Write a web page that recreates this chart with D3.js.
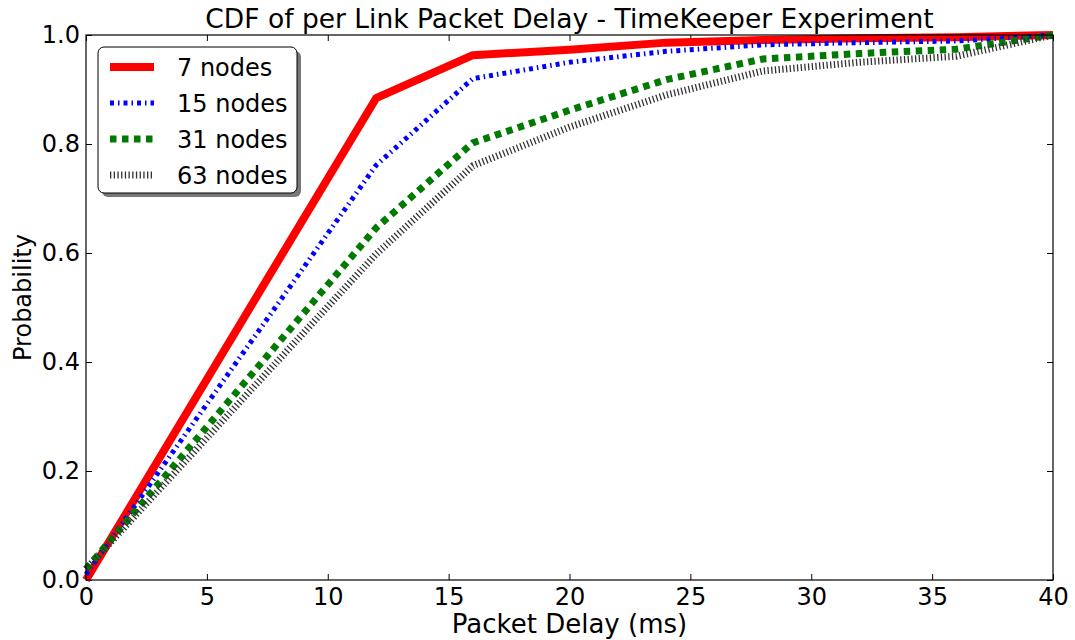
<!DOCTYPE html>
<html>
<head>
<meta charset="utf-8">
<script src="https://cdn.jsdelivr.net/npm/d3@7"></script>
<style>
  body { margin: 0; background: #fff; }
  text { font-family: "DejaVu Sans", sans-serif; fill: #000; }
</style>
</head>
<body>
<div class="chart"></div>
<script>
// data
var delays  = [0, 12, 16, 20, 24, 28, 32, 36, 40];
var nodes7  = [0, 0.884, 0.963, 0.973, 0.986, 0.991, 0.994, 0.996, 1.0];
var nodes15 = [0.01, 0.761, 0.920, 0.950, 0.970, 0.982, 0.986, 0.989, 1.0];
var nodes31 = [0.02, 0.646, 0.802, 0.862, 0.918, 0.956, 0.966, 0.974, 1.0];
var nodes63 = [0.02, 0.598, 0.760, 0.831, 0.890, 0.934, 0.950, 0.961, 1.0];
var seriesNames = ["7 nodes", "15 nodes", "31 nodes", "63 nodes"];
var xTicks = [0, 5, 10, 15, 20, 25, 30, 35, 40];
var yTicks = [0, 0.2, 0.4, 0.6, 0.8, 1.0];

var svgWidth = 1075;
var svgHeight = 640;

var margin = { top: 35, right: 22, bottom: 60, left: 86 };

var width = svgWidth - margin.left - margin.right;
var height = svgHeight - margin.top - margin.bottom;

var svg = d3.select(".chart")
  .append("svg")
  .attr("width", svgWidth)
  .attr("height", svgHeight);

var chartGroup = svg.append("g")
  .attr("transform", `translate(${margin.left}, ${margin.top})`);

var xLinearScale = d3.scaleLinear().domain([0, 40]).range([0, width]);
var yLinearScale = d3.scaleLinear().domain([0, 1]).range([height, 0]);

// line styles (matplotlib-like)
var styles = [
  { color: "#ff0000", width: 8, dash: null },
  { color: "#0000ff", width: 5, dash: "4,4,1.5,4" },
  { color: "#007a00", width: 7, dash: "6.5,5.5" },
  { color: "#333333", width: 7, dash: "1.3,2.4" }
];
var allSeries = [nodes7, nodes15, nodes31, nodes63];

// axes: inward ticks on all four sides
var tickFmt = d3.format(".1f");
var bottomAxis = d3.axisBottom(xLinearScale).tickValues(xTicks).tickSizeInner(-6).tickSizeOuter(0).tickPadding(8);
var leftAxis = d3.axisLeft(yLinearScale).tickValues(yTicks).tickFormat(tickFmt).tickSizeInner(-6).tickSizeOuter(0).tickPadding(6);
var topAxis = d3.axisTop(xLinearScale).tickValues(xTicks).tickSizeInner(-6).tickSizeOuter(0).tickFormat("");
var rightAxis = d3.axisRight(yLinearScale).tickValues(yTicks).tickSizeInner(-6).tickSizeOuter(0).tickFormat("");

var gx = chartGroup.append("g").attr("transform", `translate(0, ${height})`).call(bottomAxis);
var gy = chartGroup.append("g").call(leftAxis);
chartGroup.append("g").call(topAxis);
chartGroup.append("g").attr("transform", `translate(${width}, 0)`).call(rightAxis);

chartGroup.selectAll(".domain").remove();
chartGroup.selectAll(".tick line").attr("stroke", "#000");
gx.selectAll("text").attr("font-size", "24px").attr("dy", "0.71em");
gy.selectAll("text").attr("font-size", "24px");

// series lines
var line = d3.line()
  .x((d, i) => xLinearScale(delays[i]))
  .y(d => yLinearScale(d));

allSeries.forEach(function (vals, i) {
  chartGroup.append("path")
    .datum(vals)
    .attr("d", line)
    .attr("fill", "none")
    .attr("stroke", styles[i].color)
    .attr("stroke-width", styles[i].width)
    .attr("stroke-dasharray", styles[i].dash)
    .attr("stroke-linejoin", "round");
});

// frame
chartGroup.append("rect")
  .attr("width", width)
  .attr("height", height)
  .attr("fill", "none")
  .attr("stroke", "#000")
  .attr("stroke-width", 1.2);

// legend
var legend = chartGroup.append("g").attr("transform", "translate(12, 12)");
legend.append("rect")
  .attr("x", 4).attr("y", 4)
  .attr("width", 199).attr("height", 146)
  .attr("rx", 6)
  .attr("fill", "#777");
legend.append("rect")
  .attr("width", 199).attr("height", 146)
  .attr("rx", 6)
  .attr("fill", "#fff")
  .attr("stroke", "#000")
  .attr("stroke-width", 1);

seriesNames.forEach(function (name, i) {
  var yy = 20 + i * 36;
  legend.append("line")
    .attr("x1", 12).attr("x2", 56)
    .attr("y1", yy).attr("y2", yy)
    .attr("stroke", styles[i].color)
    .attr("stroke-width", styles[i].width)
    .attr("stroke-dasharray", styles[i].dash);
  legend.append("text")
    .attr("x", 79)
    .attr("y", yy)
    .attr("dy", "0.36em")
    .attr("font-size", "24px")
    .text(name);
});

// title and axis labels
svg.append("text")
  .attr("x", margin.left + width / 2)
  .attr("y", 28)
  .attr("text-anchor", "middle")
  .attr("font-size", "26.5px")
  .text("CDF of per Link Packet Delay - TimeKeeper Experiment");

svg.append("text")
  .attr("x", margin.left + width / 2)
  .attr("y", 633)
  .attr("text-anchor", "middle")
  .attr("font-size", "26px")
  .text("Packet Delay (ms)");

svg.append("text")
  .attr("transform", `translate(31, ${margin.top + height / 2 - 10}) rotate(-90)`)
  .attr("text-anchor", "middle")
  .attr("font-size", "24px")
  .text("Probability");
</script>
</body>
</html>
